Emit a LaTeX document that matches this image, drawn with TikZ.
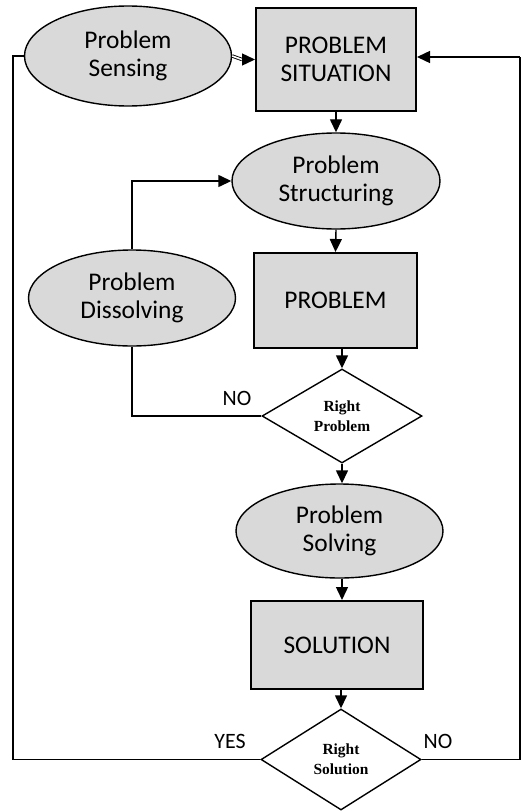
\documentclass[tikz,border=0pt]{standalone}
\usepackage{fontspec}
\setmainfont{Carlito}
\newfontfamily\tnr{Liberation Serif}
\usetikzlibrary{shapes.geometric,arrows.meta}
\definecolor{boxgray}{RGB}{217,217,217}
\tikzset{
  oval/.style={ellipse, draw, fill=boxgray, line width=1.4bp, inner sep=0pt, align=center,
    font=\fontsize{25.5}{28}\selectfont},
  rectbox/.style={rectangle, draw, fill=boxgray, line width=2bp, inner sep=0pt, align=center,
    font=\fontsize{25.5}{28}\selectfont},
  decide/.style={diamond, draw, fill=white, line width=1.4bp, inner sep=0pt, align=center,
    aspect=1.7, font=\tnr\bfseries\fontsize{15.5}{20}\selectfont},
  conn/.style={line width=1.4bp},
  arr/.style={conn, -{Triangle[length=13bp,width=12bp]}},
  lab/.style={font=\fontsize{22}{24}\selectfont, inner sep=0pt}
}
\begin{document}
\begin{tikzpicture}[x=1bp,y=-1bp]
\useasboundingbox (0,0) rectangle (521,811);
\node[oval, minimum width=207bp, minimum height=100bp] (sens) at (128,56) {Problem\\Sensing};
\node[rectbox, minimum width=160bp, minimum height=103bp] (sit) at (336,59.5) {PROBLEM\\SITUATION};
\node[oval, minimum width=208bp, minimum height=96bp] (struct) at (336,181) {Problem\\Structuring};
\node[oval, minimum width=207bp, minimum height=96bp] (diss) at (132,298) {Problem\\Dissolving};
\node[rectbox, minimum width=163bp, minimum height=95bp] (prob) at (335.5,300.5) {PROBLEM};
\node[decide, minimum width=160bp, minimum height=94bp] (rp) at (342,416) {Right\\Problem};
\node[oval, minimum width=207bp, minimum height=94bp] (solv) at (339.5,531) {Problem\\Solving};
\node[rectbox, minimum width=172bp, minimum height=88bp] (sol) at (337,645) {SOLUTION};
\node[decide, minimum width=160bp, minimum height=101bp] (rs) at (341,759.5) {Right\\Solution};

\coordinate (L1) at (13,56);
\coordinate (R1) at (520,57);
\coordinate (dbl) at ([xshift=-13bp]sit.west);

% top row
\draw[double, double distance=1.6bp, line width=0.9bp] (sens.east) -- (dbl);
\draw[arr] (dbl) -- (sit.west);
\draw[arr] (R1) -- (R1 -| sit.east);
% main column
\draw[arr] (sit.south) -- (struct.north);
\draw[arr] (struct.south) -- (prob.north);
\draw[arr] (prob.south -| rp.north) -- (rp.north);
\draw[arr] (rp.south) -- (rp.south |- solv.north);
\draw[arr] (solv.south -| rp.south) -- (rp.south |- sol.north);
\draw[arr] (sol.south -| rs.north) -- (rs.north);
% dissolving loop
\draw[arr] (diss.north) |- (struct.west);
\draw[conn] (rp.west) -| (diss.south);
% outer loops
\draw[conn] (rs.west) -| (L1) -- (sens.west);
\draw[conn] (rs.east) -| (R1);
% labels
\node[lab] (no1) at (237,398) {NO};
\node[lab] (yes) at (230,741) {YES};
\node[lab] (no2) at (438,741) {NO};
\end{tikzpicture}
\end{document}
